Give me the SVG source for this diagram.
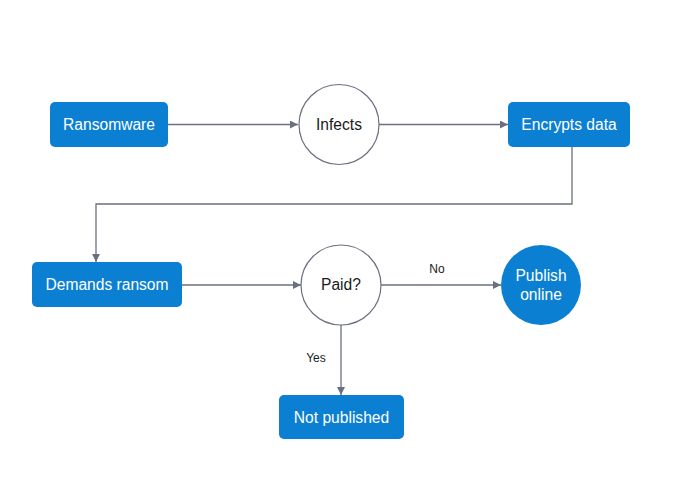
<svg xmlns="http://www.w3.org/2000/svg" width="700" height="480" viewBox="0 0 700 480">
<style>
.box{fill:#0b80d2;}
.wt{fill:#ffffff;font-family:"Liberation Sans",Arial,sans-serif;font-size:15.6px;text-anchor:middle;}
.bt{fill:#1a1a1a;font-family:"Liberation Sans",Arial,sans-serif;font-size:15.6px;text-anchor:middle;}
.lbl{fill:#1a1a1a;font-family:"Liberation Sans",Arial,sans-serif;font-size:12px;text-anchor:middle;}
.circ{fill:#ffffff;stroke:#6b7080;stroke-width:1.2;}
.edge{fill:none;stroke:#6b7080;stroke-width:1.3;marker-end:url(#arr);}
</style>
<defs>
<marker id="arr" viewBox="0 0 10 10" refX="10" refY="5" markerWidth="8" markerHeight="8" markerUnits="userSpaceOnUse" orient="auto">
<path d="M0,0 L10,5 L0,10 z" fill="#6b7080"/>
</marker>
</defs>
<rect width="700" height="480" fill="#ffffff"/>
<g id="connectors">
<path class="edge" d="M168,124.5 H298"/>
<path class="edge" d="M379,124.5 H508"/>
<path class="edge" d="M572,147 V204 H96 V262"/>
<path class="edge" d="M182,285 H301"/>
<path class="edge" d="M381,285 H501"/>
<path class="edge" d="M341,325 V395"/>
<text class="lbl" x="437" y="273">No</text>
<text class="lbl" x="316" y="362">Yes</text>
</g>
<g id="ransomware">
<rect class="box" x="50" y="102" width="118" height="45" rx="5"/>
<text class="wt" x="109" y="130">Ransomware</text>
</g>
<g id="infects">
<circle class="circ" cx="339" cy="124.5" r="40"/>
<text class="bt" x="339" y="130">Infects</text>
</g>
<g id="encrypts">
<rect class="box" x="508" y="102" width="122" height="45" rx="5"/>
<text class="wt" x="569" y="130">Encrypts data</text>
</g>
<g id="demands">
<rect class="box" x="32" y="262" width="150" height="45" rx="5"/>
<text class="wt" x="107" y="290">Demands ransom</text>
</g>
<g id="paid">
<circle class="circ" cx="341" cy="285" r="40"/>
<text class="bt" x="341" y="290">Paid?</text>
</g>
<g id="publish">
<circle class="box" cx="541" cy="285" r="40"/>
<text class="wt" x="541" y="281">Publish</text>
<text class="wt" x="541" y="300">online</text>
</g>
<g id="notpublished">
<rect class="box" x="279" y="395" width="125" height="44" rx="5"/>
<text class="wt" x="341.5" y="423">Not published</text>
</g>
</svg>
